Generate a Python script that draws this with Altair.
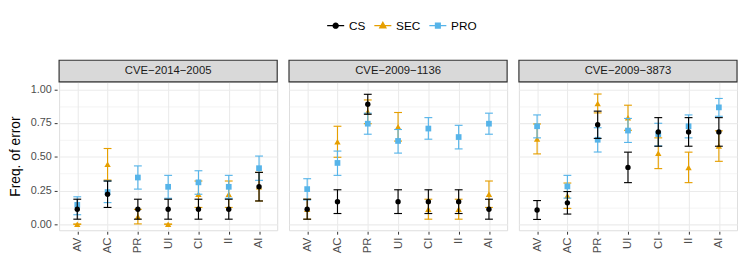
import altair as alt
import pandas as pd

CVES = ["CVE\u22122014\u22122005", "CVE\u22122009\u22121136", "CVE\u22122009\u22123873"]
CATS = ["AV", "AC", "PR", "UI", "CI", "II", "AI"]
SERIES = ["CS", "SEC", "PRO"]
COLORS = ["#000000", "#E69F00", "#56B4E9"]
Y_TICKS = [0.0, 0.125, 0.25, 0.375, 0.5, 0.625, 0.75, 0.875, 1.0]

# values per series: panel 1 (7 cats), panel 2, panel 3
CS_VAL = [0.111, 0.222, 0.111, 0.111, 0.111, 0.111, 0.278,
          0.111, 0.167, 0.889, 0.167, 0.167, 0.167, 0.111,
          0.105, 0.158, 0.737, 0.421, 0.684, 0.684, 0.684]
CS_LO = [0.037, 0.124, 0.037, 0.037, 0.037, 0.037, 0.172,
         0.037, 0.079, 0.815, 0.079, 0.079, 0.079, 0.037,
         0.035, 0.075, 0.636, 0.308, 0.578, 0.578, 0.578]
CS_HI = [0.185, 0.320, 0.185, 0.185, 0.185, 0.185, 0.384,
         0.185, 0.255, 0.963, 0.255, 0.255, 0.255, 0.185,
         0.175, 0.242, 0.838, 0.534, 0.790, 0.790, 0.790]

SEC_VAL = [0.0, 0.444, 0.056, 0.0, 0.222, 0.222, 0.278,
           0.111, 0.611, 0.833, 0.722, 0.111, 0.111, 0.222,
           0.632, 0.211, 0.895, 0.789, 0.526, 0.421, 0.579]
SEC_LO = [0.0, 0.327, 0.002, 0.0, 0.124, 0.124, 0.172,
          0.037, 0.496, 0.745, 0.616, 0.037, 0.037, 0.124,
          0.521, 0.117, 0.825, 0.696, 0.412, 0.308, 0.466]
SEC_HI = [0.0, 0.561, 0.110, 0.0, 0.320, 0.320, 0.384,
          0.185, 0.726, 0.921, 0.828, 0.185, 0.185, 0.320,
          0.743, 0.305, 0.965, 0.882, 0.640, 0.534, 0.692]

PRO_VAL = [0.143, 0.238, 0.346, 0.277, 0.310, 0.277, 0.415,
           0.260, 0.454, 0.745, 0.617, 0.709, 0.646, 0.745,
           0.726, 0.280, 0.626, 0.694, 0.668, 0.726, 0.866]
PRO_LO = [0.070, 0.160, 0.260, 0.192, 0.222, 0.192, 0.325,
          0.180, 0.362, 0.667, 0.527, 0.630, 0.558, 0.667,
          0.640, 0.193, 0.535, 0.606, 0.580, 0.640, 0.800]
PRO_HI = [0.203, 0.320, 0.432, 0.362, 0.396, 0.362, 0.505,
          0.337, 0.542, 0.823, 0.702, 0.790, 0.733, 0.823,
          0.810, 0.362, 0.715, 0.784, 0.748, 0.810, 0.932]

SERIES_DATA = {
    "CS": (CS_VAL, CS_LO, CS_HI),
    "SEC": (SEC_VAL, SEC_LO, SEC_HI),
    "PRO": (PRO_VAL, PRO_LO, PRO_HI),
}

rows = []
for s in SERIES:
    val, lo, hi = SERIES_DATA[s]
    for ci, cve in enumerate(CVES):
        for k, cat in enumerate(CATS):
            i = ci * 7 + k
            rows.append({"cve": cve, "cat": cat, "series": s,
                         "val": val[i], "lo": lo[i], "hi": hi[i]})
df = pd.DataFrame(rows)

W = 222
H = 151
FONT = "Liberation Sans"

xenc = alt.X("cat:N", sort=CATS, title=None,
             scale=alt.Scale(type="point", padding=0.6),
             axis=alt.Axis(labelAngle=270, grid=True, gridColor="#ebebeb", gridWidth=1.1,
                           tickSize=3, tickColor="#333333", labelPadding=3,
                           labelColor="#4d4d4d", labelFontSize=11.5, labelFont=FONT,
                           domain=False))
yscale = alt.Scale(domain=[-0.045, 1.055], nice=False, zero=False)
yaxis = alt.Axis(values=Y_TICKS, title="Freq. of error",
                 labelExpr="(datum.value*4) % 1 == 0 ? format(datum.value, '.2f') : ''",
                 gridColor="#ebebeb",
                 gridWidth={"condition": {"test": "(datum.value*4) % 1 != 0", "value": 0.55}, "value": 1.1},
                 tickOpacity={"condition": {"test": "(datum.value*4) % 1 != 0", "value": 0}, "value": 1},
                 tickSize=3, tickColor="#333333", labelPadding=3,
                 labelColor="#4d4d4d", labelFontSize=11, labelFont=FONT,
                 titleFontSize=14, titleFont=FONT, titleFontWeight="normal",
                 titleColor="#000000", titlePadding=8, domain=False)
cscale = alt.Scale(domain=SERIES, range=COLORS)

base = alt.Chart()

strip_rect = base.mark_rect(fill="#d9d9d9", stroke="#333333", strokeWidth=1.2).encode(
    x=alt.value(0), x2=alt.value(W), y=alt.value(-22), y2=alt.value(0)
).transform_aggregate(n="count()", groupby=["cve"])

strip_text = base.mark_text(fontSize=11.5, font=FONT, color="#1a1a1a").encode(
    text="cve:N", x=alt.value(W / 2), y=alt.value(-11)
).transform_aggregate(n="count()", groupby=["cve"])

SHAPES = {"CS": "circle", "SEC": "triangle-up", "PRO": "square"}
SIZES = {"CS": 30, "SEC": 42, "PRO": 34}
COLOR_OF = dict(zip(SERIES, COLORS))

series_layers = []
for s in ["SEC", "PRO", "CS"]:  # drawing order, CS on top
    c = COLOR_OF[s]
    rules = base.mark_rule(strokeWidth=1.15, color=c).encode(
        x=xenc,
        y=alt.Y("lo:Q", scale=yscale, axis=yaxis),
        y2="hi:Q",
    ).transform_filter(alt.datum.series == s)
    caps = base.mark_tick(size=8, thickness=1.15, color=c, opacity=1).encode(
        x=xenc,
        y=alt.Y("bound:Q", scale=yscale, axis=yaxis),
    ).transform_filter(alt.datum.series == s).transform_fold(["lo", "hi"], as_=["which", "bound"])
    pts = base.mark_point(filled=True, size=SIZES[s], opacity=1, shape=SHAPES[s], color=c).encode(
        x=xenc,
        y=alt.Y("val:Q", scale=yscale, axis=yaxis),
    ).transform_filter(alt.datum.series == s)
    series_layers += [rules, caps, pts]

LEGEND_PATHS = [
    "M-1,0H1M0.3,0A0.3,0.3,0,1,1,-0.3,0A0.3,0.3,0,1,1,0.3,0Z",
    "M-1,0H1M0,-0.38L0.36,0.25L-0.36,0.25Z",
    "M-1,0H1M-0.28,-0.28H0.28V0.28H-0.28Z",
]

legend_layer = base.mark_point(filled=True, clip=True, opacity=1).encode(
    x=xenc,
    y=alt.value(-2000),
    color=alt.Color("series:N", scale=cscale,
                    legend=alt.Legend(title=None, orient="none", direction="horizontal",
                                      legendX=272, legendY=-67, symbolSize=300,
                                      symbolStrokeWidth=1.3, labelFontSize=12, labelFont=FONT,
                                      labelColor="#000000", labelOffset=4, columnPadding=6)),
    stroke=alt.Stroke("series:N", scale=cscale),
    shape=alt.Shape("series:N", scale=alt.Scale(domain=SERIES, range=LEGEND_PATHS)),
)

layered = alt.layer(strip_rect, strip_text, *series_layers, legend_layer,
                    data=df).properties(width=W, height=H)

chart = layered.facet(
    column=alt.Column("cve:N", sort=CVES, header=alt.Header(labels=False, title=None)),
    spacing=8,
).properties(
    padding={"left": 0, "top": 6, "right": 0, "bottom": 0}
).configure_view(stroke=None).configure(background="white")

chart.save("out.html", embed_options={"renderer": "svg", "actions": False})
